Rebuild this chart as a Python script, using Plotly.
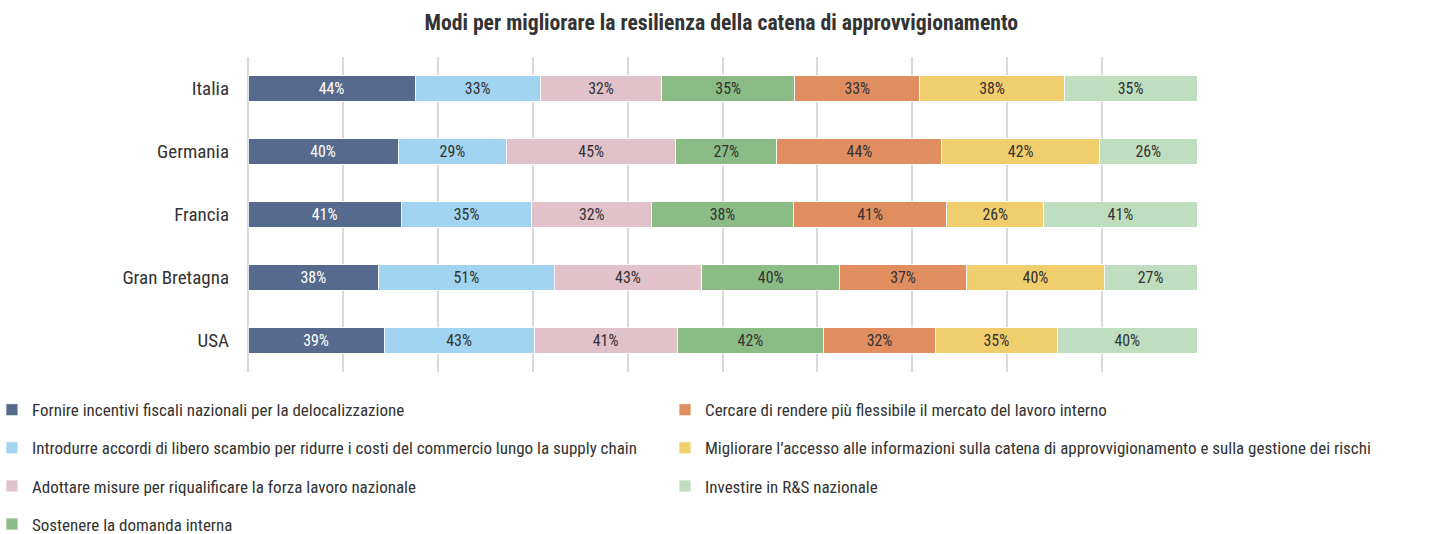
import plotly.graph_objects as go

countries = ["Italia", "Germania", "Francia", "Gran Bretagna", "USA"]
series_names = [
    "Fornire incentivi fiscali nazionali per la delocalizzazione",
    "Introdurre accordi di libero scambio per ridurre i costi del commercio lungo la supply chain",
    "Adottare misure per riqualificare la forza lavoro nazionale",
    "Sostenere la domanda interna",
    "Cercare di rendere più flessibile il mercato del lavoro interno",
    "Migliorare l’accesso alle informazioni sulla catena di approvvigionamento e sulla gestione dei rischi",
    "Investire in R&S nazionale",
]
incentivi = [44, 40, 41, 38, 39]
libero_scambio = [33, 29, 35, 51, 43]
riqualificare = [32, 45, 32, 43, 41]
domanda = [35, 27, 38, 40, 42]
flessibile = [33, 44, 41, 37, 32]
informazioni = [38, 42, 26, 40, 35]
ricerca = [35, 26, 41, 27, 40]
values = [incentivi, libero_scambio, riqualificare, domanda, flessibile, informazioni, ricerca]
colors = ["#556A8C", "#A0D4F0", "#E1C2CB", "#8BBC85", "#E08E60", "#F1CE6D", "#BFDDBF"]
text_colors = ["#FFFFFF", "#333333", "#333333", "#333333", "#333333", "#333333", "#333333"]

FONT = "Liberation Sans Narrow, Roboto Condensed, Open Sans, sans-serif"

fig = go.Figure()
for i, (name, vals) in enumerate(zip(series_names, values)):
    fig.add_trace(go.Bar(
        y=countries, x=vals, name=name, orientation="h",
        marker=dict(color=colors[i], line=dict(color="white", width=0.8)),
        text=[f"{v}%" for v in vals], textposition="inside",
        insidetextanchor="middle", textangle=0,
        textfont=dict(color=text_colors[i], size=19, family=FONT),
        legend="legend" if i < 4 else "legend2",
        legendgroup=f"g{i}",
        width=0.4,
    ))

fig.update_layout(
    barmode="stack", barnorm="percent",
    width=1434, height=534,
    margin=dict(l=248, r=237, t=57, b=162, autoexpand=False),
    plot_bgcolor="white", paper_bgcolor="white",
    font=dict(family=FONT, size=17, color="#333333"),
    title=dict(text="<b>Modi per migliorare la resilienza della catena di approvvigionamento</b>",
               x=0.503, xref="container", xanchor="center", y=0.958, yref="container",
               yanchor="middle", font=dict(size=21.7, color="#333333", family=FONT)),
    xaxis=dict(range=[0, 100], dtick=10, showticklabels=False, showgrid=True,
               gridcolor="#D9D9D9", gridwidth=1.5, zeroline=True, zerolinecolor="#D9D9D9",
               zerolinewidth=1.5, showline=False, fixedrange=True),
    yaxis=dict(categoryorder="array", categoryarray=countries[::-1], showgrid=False,
               ticks="", ticklabelstandoff=18, tickfont=dict(size=19, color="#333333")),
    uniformtext=dict(minsize=10, mode="show"),
    legend=dict(x=-0.2698, xanchor="left", y=-0.064, yanchor="top", orientation="v",
                tracegroupgap=13, font=dict(size=17, color="#333333"),
                itemwidth=30, bgcolor="rgba(0,0,0,0)"),
    legend2=dict(x=0.4394, xanchor="left", y=-0.064, yanchor="top", orientation="v",
                 tracegroupgap=13, font=dict(size=17, color="#333333"),
                 itemwidth=30, bgcolor="rgba(0,0,0,0)"),
    showlegend=True,
)

fig.write_html("out.html", config={"displayModeBar": False},
               post_script="document.body.style.margin='0';document.body.style.overflow='hidden';")
